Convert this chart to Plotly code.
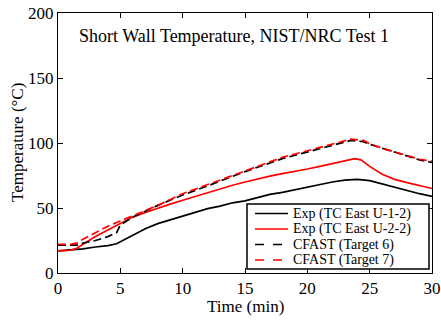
import plotly.graph_objects as go

t_exp1 = [0, 1, 1.5, 2, 3, 4, 4.7, 5, 5.5, 6, 7, 8, 9, 10, 11, 12, 13, 14, 15, 16, 17, 18, 19, 20, 21, 22, 23, 24, 25, 26, 27, 28, 29, 30]
T_exp1 = [17, 17.5, 18, 18.5, 20, 21, 22.5, 24, 26, 29, 34, 38, 41, 44, 47, 49.5, 51.5, 54, 55.5, 58, 60.5, 62, 64, 66.5, 68, 70, 71.5, 72, 71, 68.5, 66, 63, 61, 59]

t_exp2 = [0, 1, 1.5, 2, 3, 4, 5, 6, 7, 8, 9, 10, 11, 12, 13, 14, 15, 16, 17, 18, 19, 20, 21, 22, 23, 23.8, 24.3, 25, 26, 27, 28, 29, 30]
T_exp2 = [17, 17.5, 19, 22, 28, 33, 38, 43, 46.5, 50, 53, 56, 59, 62, 65, 67.5, 70, 72.5, 74.5, 76.5, 78, 80, 82, 84, 86, 88, 87, 82, 76, 72, 69.5, 67, 65]

t_cf6 = [0, 1.5, 2, 3, 4, 4.7, 5, 6, 8, 10, 12, 15, 18, 20, 22, 23.5, 24.5, 25, 26, 27, 28, 29, 30]
T_cf6 = [21.5, 21.5, 23, 25, 28, 31, 37, 43, 52, 60, 67, 78, 88, 93, 98, 102, 101, 99, 96, 93, 90, 87, 85]

t_cf7 = [0, 1, 1.5, 2, 3, 4, 5, 6, 8, 10, 12, 15, 18, 20, 22, 23.5, 24.5, 25, 26, 27, 28, 29, 30]
T_cf7 = [22, 22, 23, 26, 31, 36, 40, 44, 52, 61, 68, 79, 89, 94, 99, 103, 102, 99.5, 96, 93, 90, 87.5, 86]

names = ["Exp (TC East U-1-2)", "Exp (TC East U-2-2)", "CFAST (Target 6)", "CFAST (Target 7)"]
title_text = "Short Wall Temperature, NIST/NRC Test 1"
x_title = "Time (min)"
y_title = "Temperature (°C)"

FONT = "'Liberation Serif', 'Times New Roman', serif"

series = [
    (t_exp1, T_exp1, "black", "solid"),
    (t_exp2, T_exp2, "red", "solid"),
    (t_cf6, T_cf6, "black", "8px,4px"),
    (t_cf7, T_cf7, "red", "8px,4px"),
]

fig = go.Figure()
for (tx, ty, col, dash), nm in zip(series, names):
    fig.add_trace(go.Scatter(x=tx, y=ty, mode="lines", name=nm,
                             line=dict(color=col, width=1.7, dash=dash)))

axis_common = dict(showgrid=False, zeroline=False, showline=True, linecolor="black",
                   linewidth=1, mirror="ticks", ticks="inside", ticklen=5,
                   tickcolor="black", automargin=False,
                   tickfont=dict(family=FONT, size=17, color="black"))

# plot-area pixel frame and pixel -> paper helpers for the key and titles
L, R, T, B = 58, 432, 13, 273
def px(x): return (x - L) / (R - L)
def py(y): return (B - y) / (B - T)

shapes = [dict(type="rect", xref="paper", yref="paper",
               x0=px(247), x1=px(429), y0=py(269), y1=py(204),
               line=dict(color="black", width=1.5), fillcolor="white", layer="above")]
annotations = [
    dict(text=title_text, x=0.051, y=0.911, xref="paper", yref="paper",
         xanchor="left", yanchor="middle", showarrow=False,
         font=dict(family=FONT, size=18, color="black")),
    dict(text=x_title, x=px(245), y=py(306), xref="paper", yref="paper",
         xanchor="center", yanchor="middle", showarrow=False,
         font=dict(family=FONT, size=17, color="black")),
    dict(text=y_title, x=px(17), y=py(143), xref="paper", yref="paper",
         xanchor="center", yanchor="middle", showarrow=False, textangle=-90,
         font=dict(family=FONT, size=17, color="black")),
]
row_y = [213.5, 229, 244.5, 260]
for (tx, ty, col, dash), nm, ry in zip(series, names, row_y):
    shapes.append(dict(type="line", xref="paper", yref="paper",
                       x0=px(255), x1=px(288), y0=py(ry), y1=py(ry),
                       line=dict(color=col, width=1.7, dash="dash" if dash != "solid" else "solid"),
                       layer="above"))
    annotations.append(dict(text=nm, x=px(291), y=py(ry), xref="paper", yref="paper",
                            xanchor="left", yanchor="middle", showarrow=False,
                            font=dict(family=FONT, size=14, color="black")))

fig.update_layout(
    width=441, height=320,
    margin=dict(l=L, r=441 - R, t=T, b=320 - B),
    paper_bgcolor="white", plot_bgcolor="white",
    font=dict(family=FONT, color="black"),
    xaxis=dict(range=[0, 30], tickvals=[0, 5, 10, 15, 20, 25, 30], **axis_common),
    yaxis=dict(range=[0, 200], tickvals=[0, 50, 100, 150, 200], **axis_common),
    showlegend=False,
    shapes=shapes,
    annotations=annotations,
)

fig.write_html("out.html", config={"displayModeBar": False},
               post_script="document.body.style.margin='0';")
